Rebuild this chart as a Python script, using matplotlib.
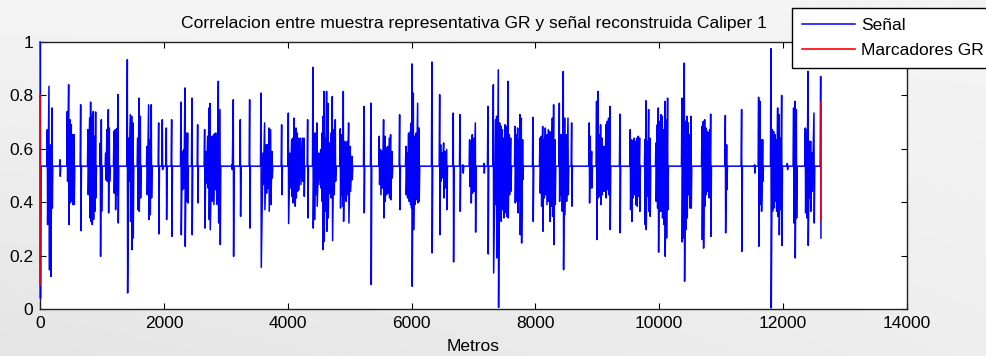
"""
Correlacion GR / Caliper 1
Señal reconstruida vs. marcadores GR a lo largo del pozo (metros).
"""

import numpy as np
import matplotlib
matplotlib.use("Agg")
import matplotlib.pyplot as plt

plt.rcParams["font.family"] = ["Liberation Sans", "DejaVu Sans"]

# ── Datos ─────────────────────────────────────────────────────────────────── #

BASELINE = 0.535          # nivel de reposo de la señal

# picos de la señal: posicion (m), maximo, minimo
SPIKE_M = [
    0,
    115, 142, 169, 191, 320,
    438, 460, 481, 503, 525, 546, 654,
    772, 799, 815, 837, 858, 880, 896, 971, 988,
    1058, 1079, 1101, 1117, 1192, 1214, 1235, 1257,
    1408, 1429, 1456, 1478, 1499, 1575, 1596, 1618,
    1725, 1752, 1774, 1795, 1914, 1973, 2038,
    2124, 2275, 2296, 2318, 2339, 2361, 2382, 2452, 2544,
    2657, 2679, 2706, 2727, 2743, 2776, 2802, 2829, 2856, 2878, 2905,
    3099, 3120, 3233, 3384, 3567,
    3599, 3626, 3653, 3675, 3696, 3723, 3745, 3901,
    4009, 4036, 4063, 4079, 4100, 4116, 4133, 4154, 4176, 4208, 4240, 4262,
    4321, 4407, 4428, 4450, 4471, 4498, 4531, 4552, 4568, 4584, 4606,
    4627, 4649, 4671, 4697, 4719, 4746, 4768,
    4848, 4864, 4886, 4897, 4918, 4940, 4961, 4983, 5010, 5037,
    5231, 5344,
    5478, 5500, 5527, 5548, 5570, 5591, 5613, 5640, 5661, 5683, 5807,
    5909, 5931, 5952, 5979, 5995, 6006, 6028, 6049, 6071, 6098, 6119,
    6329,
    6454, 6470, 6497, 6518, 6540, 6567, 6674, 6782, 6830,
    6938, 6960, 6981, 7003, 7030, 7170, 7234, 7321,
    7358, 7374, 7401, 7423, 7444, 7466, 7487, 7509, 7536, 7557, 7579, 7601,
    7671, 7692, 7714, 7735, 7751, 7773, 7794, 7961,
    8074, 8096, 8118, 8139, 8161, 8182, 8209, 8231, 8252, 8274, 8295, 8317,
    8387, 8408, 8430, 8451, 8473, 8500, 8527, 8586,
    8871, 8887, 8909,
    8989, 9011, 9033, 9054, 9076, 9097, 9119, 9140, 9162, 9183, 9205, 9366,
    9533, 9555, 9576, 9598, 9619, 9641, 9663, 9684,
    9770, 9786, 9808, 9830, 9851,
    9948, 9970, 9986, 10007, 10029, 10050, 10072, 10093, 10115, 10136,
    10368, 10390, 10406, 10427, 10449, 10470, 10492, 10514,
    10692, 10713, 10735, 10756, 10778, 10799, 10815, 10832,
    11069, 11090, 11332, 11542,
    11607, 11629, 11650, 11672, 11806,
    11828, 11849, 11871, 11893, 11914, 11936, 11957, 11979, 12070,
    12172, 12194, 12216,
    12361, 12383, 12404, 12426, 12447, 12469, 12501, 12609,
]
SPIKE_HI = [
    1.000,
    0.672, 0.834, 0.615, 0.753, 0.559,
    0.740, 0.840, 0.709, 0.690, 0.653, 0.653, 0.765,
    0.672, 0.715, 0.775, 0.722, 0.740, 0.647, 0.738, 0.622, 0.709,
    0.584, 0.672, 0.747, 0.678, 0.665, 0.672, 0.675, 0.803,
    0.934, 0.640, 0.728, 0.722, 0.697, 0.640, 0.790, 0.722,
    0.609, 0.765, 0.634, 0.765, 0.697, 0.709, 0.678,
    0.709, 0.775, 0.590, 0.597, 0.828, 0.659, 0.659, 0.790, 0.690,
    0.672, 0.590, 0.647, 0.753, 0.770, 0.647, 0.653, 0.659, 0.659, 0.853, 0.747,
    0.540, 0.784, 0.709, 0.784, 0.809,
    0.584, 0.697, 0.615, 0.615, 0.678, 0.672, 0.590, 0.690,
    0.734, 0.584, 0.634, 0.640, 0.715, 0.634, 0.678, 0.659, 0.640, 0.640, 0.640, 0.640,
    0.709, 0.905, 0.659, 0.659, 0.697, 0.584, 0.597, 0.659, 0.722, 0.815, 0.640,
    0.815, 0.770, 0.622, 0.659, 0.796, 0.672, 0.709,
    0.675, 0.653, 0.622, 0.815, 0.628, 0.622, 0.628, 0.697, 0.609, 0.572,
    0.759, 0.771,
    0.647, 0.597, 0.590, 0.709, 0.647, 0.603, 0.609, 0.640, 0.653, 0.590, 0.728,
    0.609, 0.584, 0.659, 0.665, 0.697, 0.918, 0.809, 0.647, 0.659, 0.771, 0.678,
    0.925,
    0.803, 0.615, 0.584, 0.622, 0.590, 0.597, 0.734, 0.728, 0.540,
    0.634, 0.628, 0.653, 0.640, 0.697, 0.545, 0.759, 0.840,
    0.709, 0.722, 0.896, 0.697, 0.684, 0.672, 0.640, 0.690, 0.684, 0.853, 0.653, 0.640,
    0.684, 0.653, 0.678, 0.634, 0.728, 0.715, 0.634, 0.718,
    0.640, 0.647, 0.684, 0.634, 0.678, 0.653, 0.672, 0.665, 0.659, 0.715, 0.765, 0.634,
    0.771, 0.653, 0.653, 0.890, 0.715, 0.653, 0.715, 0.697,
    0.697, 0.647, 0.590,
    0.778, 0.815, 0.653, 0.690, 0.640, 0.609, 0.609, 0.690, 0.703, 0.715, 0.759, 0.730,
    0.672, 0.634, 0.628, 0.640, 0.628, 0.640, 0.647, 0.640,
    0.634, 0.780, 0.628, 0.747, 0.640,
    0.622, 0.690, 0.753, 0.703, 0.728, 0.722, 0.672, 0.778, 0.709, 0.790,
    0.790, 0.778, 0.921, 0.703, 0.722, 0.697, 0.653, 0.722,
    0.684, 0.703, 0.709, 0.678, 0.665, 0.659, 0.672, 0.730,
    0.725, 0.615, 0.747, 0.540,
    0.793, 0.778, 0.634, 0.634, 0.975,
    0.672, 0.665, 0.653, 0.634, 0.753, 0.728, 0.640, 0.800, 0.545,
    0.753, 0.778, 0.747,
    0.678, 0.672, 0.890, 0.628, 0.628, 0.584, 0.734, 0.871,
]
SPIKE_LO = [
    0.040,
    0.316, 0.147, 0.122, 0.378, 0.497,
    0.478, 0.316, 0.397, 0.403, 0.391, 0.391, 0.293,
    0.428, 0.341, 0.328, 0.316, 0.335, 0.366, 0.416, 0.197, 0.366,
    0.484, 0.478, 0.360, 0.478, 0.434, 0.372, 0.428, 0.322,
    0.060, 0.478, 0.328, 0.222, 0.266, 0.372, 0.366, 0.416,
    0.428, 0.335, 0.353, 0.416, 0.281, 0.522, 0.335,
    0.272, 0.278, 0.447, 0.453, 0.235, 0.403, 0.397, 0.278, 0.397,
    0.303, 0.472, 0.453, 0.335, 0.297, 0.403, 0.391, 0.447, 0.391, 0.322, 0.241,
    0.522, 0.197, 0.347, 0.303, 0.156,
    0.466, 0.372, 0.434, 0.453, 0.366, 0.391, 0.491, 0.428,
    0.320, 0.453, 0.422, 0.397, 0.403, 0.385, 0.416, 0.441, 0.447, 0.466, 0.478, 0.422,
    0.341, 0.303, 0.335, 0.428, 0.385, 0.466, 0.453, 0.403, 0.222, 0.253, 0.366,
    0.291, 0.341, 0.434, 0.416, 0.256, 0.428, 0.478,
    0.378, 0.428, 0.385, 0.328, 0.441, 0.403, 0.428, 0.322, 0.441, 0.484,
    0.360, 0.091,
    0.466, 0.428, 0.453, 0.341, 0.403, 0.428, 0.434, 0.416, 0.409, 0.491, 0.372,
    0.428, 0.416, 0.403, 0.391, 0.378, 0.085, 0.297, 0.391, 0.409, 0.397, 0.403,
    0.210,
    0.278, 0.478, 0.491, 0.416, 0.453, 0.372, 0.176, 0.366, 0.509,
    0.459, 0.397, 0.434, 0.441, 0.288, 0.509, 0.206, 0.135,
    0.391, 0.191, 0.006, 0.366, 0.328, 0.372, 0.341, 0.360, 0.347, 0.341, 0.428, 0.441,
    0.397, 0.403, 0.360, 0.403, 0.278, 0.247, 0.484, 0.328,
    0.434, 0.385, 0.291, 0.416, 0.428, 0.391, 0.403, 0.328, 0.385, 0.347, 0.241, 0.391,
    0.403, 0.428, 0.366, 0.147, 0.353, 0.403, 0.428, 0.385,
    0.397, 0.453, 0.453,
    0.260, 0.416, 0.422, 0.391, 0.428, 0.441, 0.441, 0.416, 0.447, 0.428, 0.297, 0.285,
    0.372, 0.328, 0.416, 0.428, 0.391, 0.385, 0.422, 0.366,
    0.316, 0.297, 0.422, 0.366, 0.347,
    0.403, 0.378, 0.213, 0.366, 0.366, 0.341, 0.316, 0.197, 0.266, 0.372,
    0.251, 0.266, 0.104, 0.297, 0.341, 0.428, 0.378, 0.378,
    0.260, 0.228, 0.385, 0.428, 0.441, 0.416, 0.447, 0.272,
    0.285, 0.447, 0.216, 0.509,
    0.235, 0.391, 0.366, 0.478, 0.004,
    0.366, 0.378, 0.403, 0.366, 0.347, 0.278, 0.372, 0.238, 0.522,
    0.322, 0.191, 0.341,
    0.360, 0.341, 0.238, 0.416, 0.366, 0.441, 0.322, 0.266,
]

# marcadores GR: posicion (m), extremo inferior, extremo superior
MARKER_M = [0, 12609]
MARKER_LO = [0.09, 0.33]
MARKER_HI = [0.80, 0.774]

X_TICKS = [0, 2000, 4000, 6000, 8000, 10000, 12000, 14000]
Y_TICKS = [0, 0.2, 0.4, 0.6, 0.8, 1]
Y_TICKLABELS = ["0", "0.2", "0.4", "0.6", "0.8", "1"]


# ── Construccion de la traza ──────────────────────────────────────────────── #

def build_trace(gap=40.0):
    """Une los picos en una sola traza; fuera de las rafagas vuelve a la base."""
    xs, ys = [], []
    prev = None
    for m, hi, lo in zip(SPIKE_M, SPIKE_HI, SPIKE_LO):
        if prev is not None and m - prev > gap:
            xs += [prev + 8, m - 8]
            ys += [BASELINE, BASELINE]
        xs += [m, m + 5]
        ys += [hi, lo]
        prev = m + 5
    return np.array(xs, float), np.array(ys, float)


def marker_trace():
    xs, ys = [], []
    for m, lo, hi in zip(MARKER_M, MARKER_LO, MARKER_HI):
        xs += [m, m, np.nan]
        ys += [lo, hi, np.nan]
    return np.array(xs, float), np.array(ys, float)


# ── Figura ────────────────────────────────────────────────────────────────── #

fig = plt.figure(figsize=(9.87, 3.56), dpi=100)

# fondo gris degradado
bg = fig.add_axes([0, 0, 1, 1], zorder=-10)
gy, gx = np.mgrid[0:1:120j, 0:1:300j]
shade = 0.955 - 0.06 * gy * (1 - 0.6 * gx)
bg.imshow(shade, cmap="gray", vmin=0, vmax=1, aspect="auto",
          extent=[0, 1, 0, 1], origin="upper")
bg.axis("off")

ax = fig.add_axes([0.0407, 0.132, 0.878, 0.750])
ax.set_facecolor("white")

# las trazas van por encima de los ejes
sx, sy = build_trace()
ax.plot(sx, sy, color=(0, 0, 1), linewidth=1.1, label="Señal",
        zorder=3, clip_on=False)
mx, my = marker_trace()
ax.plot(mx, my, color=(1, 0, 0), linewidth=1.2, label="Marcadores GR",
        zorder=3.5, clip_on=False)

ax.set_xlim(0, 14000)
ax.set_ylim(0, 1)
ax.set_xticks(X_TICKS)
ax.set_xticklabels([str(t) for t in X_TICKS])
ax.set_yticks(Y_TICKS)
ax.set_yticklabels(Y_TICKLABELS)
ax.tick_params(direction="in", top=True, right=True, length=4, width=0.8,
               labelsize=12.5, pad=5, colors="black")
for sp in ax.spines.values():
    sp.set_linewidth(1.0)
    sp.set_color("#222222")

ax.set_title("Correlacion entre muestra representativa GR y señal reconstruida Caliper 1",
             fontsize=12.6, pad=10)
ax.set_xlabel("Metros", fontsize=12.5, labelpad=6)

leg = fig.legend(loc="upper left", bbox_to_anchor=(792 / 987, 1 - 8 / 356),
                 fontsize=12.5, handlelength=3.1, handletextpad=0.35,
                 labelspacing=0.6, borderpad=0.55, borderaxespad=0,
                 fancybox=False, framealpha=1, edgecolor="black")
leg.get_frame().set_linewidth(1.0)
leg.set_zorder(20)

fig.savefig("out.png", dpi=100)
